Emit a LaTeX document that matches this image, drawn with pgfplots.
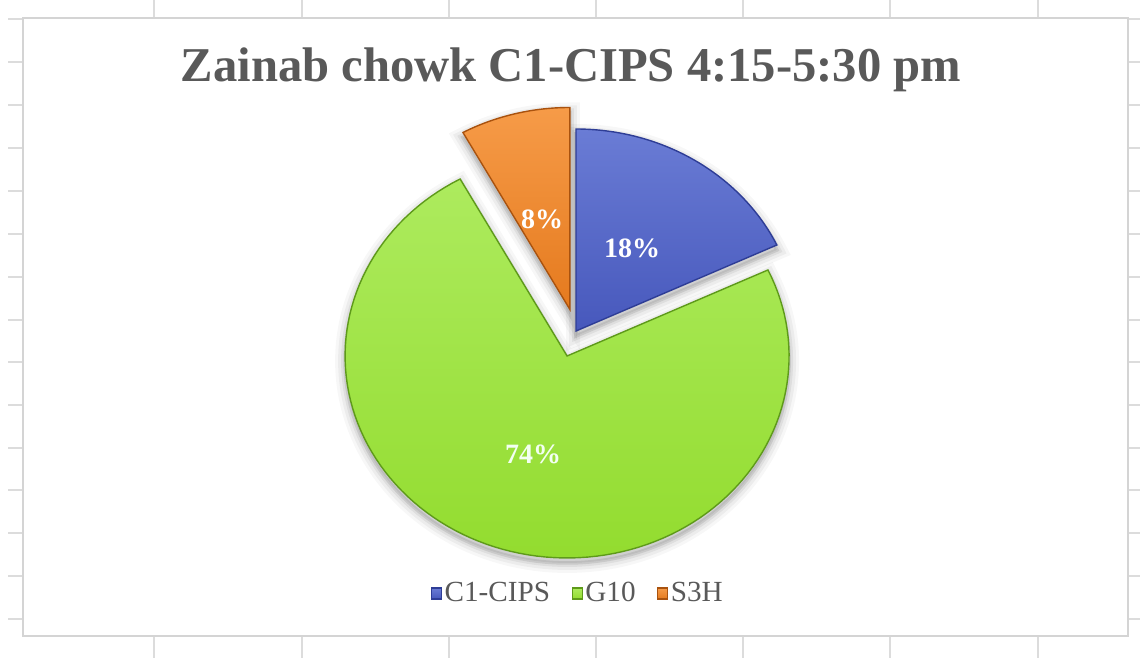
\documentclass[border=0pt]{standalone}
\usepackage{pgfplots}
\pgfplotsset{compat=1.18}
\usepackage{pgfplotstable}
\usepackage{fontspec}
\setmainfont{Liberation Serif}

\definecolor{pieblue}{HTML}{5467C9}
\definecolor{pieblueL}{HTML}{6A7CD5}
\definecolor{pieblueD}{HTML}{4758BC}
\definecolor{pieblueE}{HTML}{2E3D96}
\definecolor{piegreen}{HTML}{9DE33C}
\definecolor{piegreenL}{HTML}{ADEB5E}
\definecolor{piegreenD}{HTML}{93DC2F}
\definecolor{piegreenE}{HTML}{5E9A1A}
\definecolor{pieorange}{HTML}{F08A2E}
\definecolor{pieorangeL}{HTML}{F69B48}
\definecolor{pieorangeD}{HTML}{E57A1E}
\definecolor{pieorangeE}{HTML}{A9520E}
\definecolor{titlegray}{HTML}{595959}
\definecolor{gridgray}{HTML}{DCDCDC}
\definecolor{framegray}{HTML}{D4D4D4}

% share of each route (percent) and how far its slice is pulled out
\pgfplotstableread{
label    share explode
C1-CIPS  18    0.00
G10      74    0.13
S3H      8     0.11
}\piedata

% pie centre and radii on a 1140 x 658 canvas (y grows downwards)
\def\pcx{576}
\def\pcy{331}
\def\prx{222}
\def\pry{202}

% one slice: options, centre x, centre y, start angle, end angle
% (angles clockwise from 12 o'clock)
\newcommand\slice[5]{%
  \addplot[#1, domain=#4:#5, samples=120, variable=\t]
    ({#2+\prx*sin(\t)}, {#3-\pry*cos(\t)}) -- (#2,#3) -- cycle;
}
% soft drop shadow under a slice
\newcommand\sliceshadow[4]{%
  \slice{forget plot, draw=black, line width=10pt, draw opacity=0.03, fill=black, fill opacity=0.06}{#1}{#2+5}{#3}{#4}
  \slice{forget plot, draw=black, line width=7pt, draw opacity=0.045, fill=none}{#1}{#2+5}{#3}{#4}
  \slice{forget plot, draw=black, line width=4pt, draw opacity=0.06, fill=none}{#1}{#2+5}{#3}{#4}
  \slice{forget plot, draw=black, line width=1.8pt, draw opacity=0.09, fill=none}{#1}{#2+5}{#3}{#4}
}

\begin{document}
\begin{tikzpicture}
% angles and pulled-out centres from the table
\pgfplotstablegetelem{0}{share}\of\piedata \pgfmathsetmacro\sA{\pgfplotsretval}
\pgfplotstablegetelem{1}{share}\of\piedata \pgfmathsetmacro\sB{\pgfplotsretval}
\pgfplotstablegetelem{2}{share}\of\piedata \pgfmathsetmacro\sC{\pgfplotsretval}
\pgfplotstablegetelem{0}{explode}\of\piedata \pgfmathsetmacro\eA{\pgfplotsretval}
\pgfplotstablegetelem{1}{explode}\of\piedata \pgfmathsetmacro\eB{\pgfplotsretval}
\pgfplotstablegetelem{2}{explode}\of\piedata \pgfmathsetmacro\eC{\pgfplotsretval}
\pgfmathsetmacro\tot{\sA+\sB+\sC}
\pgfmathsetmacro\aA{360*(\sA/\tot)}
\pgfmathsetmacro\aB{\aA+360*(\sB/\tot)}
\pgfmathsetmacro\aC{\aB+360*(\sC/\tot)}
\pgfmathsetmacro\xA{\pcx+\eA*\prx*sin(\aA/2)}
\pgfmathsetmacro\yA{\pcy-\eA*\pry*cos(\aA/2)}
\pgfmathsetmacro\xB{\pcx+\eB*\prx*sin((\aA+\aB)/2)}
\pgfmathsetmacro\yB{\pcy-\eB*\pry*cos((\aA+\aB)/2)}
\pgfmathsetmacro\xC{\pcx+\eC*\prx*sin((\aB+\aC)/2)}
\pgfmathsetmacro\yC{\pcy-\eC*\pry*cos((\aB+\aC)/2)}

\begin{axis}[
  width=570pt, height=329pt, scale only axis,
  xmin=0, xmax=1140, ymin=0, ymax=658, y dir=reverse,
  hide axis, clip=false,
  legend style={draw=none, fill=none, at={(axis cs:578,593)}, anchor=center,
    font=\fontsize{14.6}{16}\selectfont, text=titlegray,
    nodes={inner sep=1.2pt},
    /tikz/every even column/.append style={column sep=9.5pt}},
  legend columns=3,
  legend image code/.code={\fill[#1] (0pt,-2.9pt) rectangle (5pt,2.5pt);},
]
% worksheet grid around the chart
\pgfplotsinvokeforeach{154,302,449,596,743,890,1038}{
  \draw[gridgray, line width=0.6pt] (#1,0) -- (#1,658);}
\pgfplotsinvokeforeach{19,62,105,148,191,234,277,320,362,405,448,490,533,576,619}{
  \draw[gridgray, line width=0.6pt] (8,#1) -- (1140,#1);}
% chart area
\draw[framegray, line width=0.7pt, fill=white] (23,18) rectangle (1128,636);

% shadows
\sliceshadow{\xA}{\yA}{0}{\aA}
\sliceshadow{\xB}{\yB}{\aA}{\aB}
\sliceshadow{\xC}{\yC}{\aB}{\aC}

% slices
\slice{draw=pieblueE, line width=0.7pt, top color=pieblueL, bottom color=pieblueD}{\xA}{\yA}{0}{\aA}
\addlegendentry{C1-CIPS}
\slice{draw=piegreenE, line width=0.7pt, top color=piegreenL, bottom color=piegreenD}{\xB}{\yB}{\aA}{\aB}
\addlegendentry{G10}
\slice{draw=pieorangeE, line width=0.7pt, top color=pieorangeL, bottom color=pieorangeD}{\xC}{\yC}{\aB}{\aC}
\addlegendentry{S3H}

% data labels
\node[anchor=base, text=white, font=\bfseries\fontsize{14}{16}\selectfont] at (632,257) {18\%};
\node[anchor=base, text=white, font=\bfseries\fontsize{14}{16}\selectfont] at (542,228) {8\%};
\node[anchor=base, text=white!95!green, font=\bfseries\fontsize{14}{16}\selectfont] at (533,463) {74\%};

% title
\node[anchor=base, text=titlegray, font=\bfseries\fontsize{24.3}{28}\selectfont] at (571,82) {Zainab chowk C1-CIPS 4:15-5:30 pm};
\end{axis}
\pgfresetboundingbox
\path[use as bounding box] (0,0) rectangle (570pt,329pt);
\end{tikzpicture}
\end{document}
